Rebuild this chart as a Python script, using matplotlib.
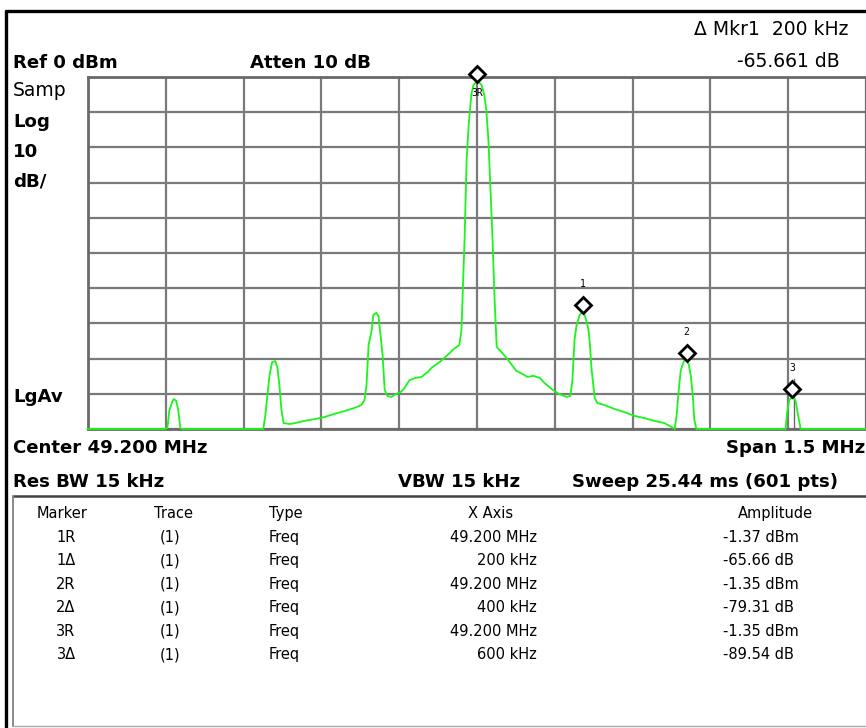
import matplotlib
matplotlib.use("Agg")
import matplotlib.pyplot as plt
import matplotlib.transforms as mtransforms

# ---------------- data ----------------
center_mhz = 49.200
span_khz = 1500
ref_dbm = 0
db_per_div = 10

# trace: frequency offset from centre (kHz) and level (dBm)
trace_khz = [-751, -601, -597, -593, -587, -584, -580, -576, -572, -570,
             -412, -408, -404, -400, -395, -389, -385, -381, -377, -373,
             -361, -350, -333, -313, -294, -275, -255, -236, -223, -217,
             -213, -209, -203, -200, -194, -190, -186, -182, -178, -173,
             -165, -157, -147, -140, -130, -119, -107, -95, -86, -72,
             -59, -45, -34, -30, -28, -24, -20, -16, -11, -7,
             -3, 1, 5, 9, 14, 18, 22, 26, 30, 34,
             38, 47, 57, 67, 76, 88, 97, 109, 121, 130,
             146, 159, 173, 180, 184, 188, 192, 198, 204, 207,
             213, 215, 217, 221, 227, 232, 246, 265, 284, 304,
             323, 342, 361, 375, 381, 385, 389, 393, 399, 404,
             408, 412, 416, 419, 423, 595, 598, 602, 608, 614,
             618, 624, 749]
trace_dbm = [-100, -100, -99.7, -94.6, -92.0, -91.5, -92.0, -94.6, -99.7, -100,
             -100, -96.0, -90.3, -84.7, -81.0, -80.7, -82.4, -87.5, -94.6, -98.3,
             -98.6, -98.3, -97.7, -97.2, -96.6, -95.7, -94.9, -94.0, -93.2, -91.8,
             -87.5, -76.1, -71.9, -67.6, -67.0, -67.9, -73.3, -79.0, -88.9, -90.6,
             -90.9, -90.1, -89.5, -88.4, -86.1, -85.5, -85.2, -83.8, -82.4, -81.0,
             -79.3, -77.3, -76.1, -71.9, -63.4, -46.3, -23.6, -13.6, -5.1, -2.3,
             -1.7, -1.4, -1.7, -2.3, -5.1, -9.4, -17.9, -32.1, -46.3, -63.4,
             -76.7, -78.1, -79.8, -81.8, -83.5, -84.4, -85.2, -84.9, -85.5, -86.9,
             -88.9, -90.1, -90.9, -90.6, -86.1, -74.7, -70.5, -67.6, -66.5, -67.3,
             -70.5, -71.9, -74.7, -83.2, -91.2, -92.6, -93.2, -94.3, -95.2, -96.3,
             -96.9, -97.7, -98.3, -99.4, -100, -96.0, -88.9, -83.2, -80.7, -80.4,
             -81.5, -84.7, -90.3, -97.4, -100, -100, -95.2, -91.8, -90.9, -91.8,
             -95.2, -100, -100]

# markers on the trace
marker_labels = ["3R", "1", "2", "3"]
marker_khz = [0, 204, 404, 608]
marker_dbm = [-1.37, -67.03, -80.66, -90.89]

# marker table
table_header = ["Marker", "Trace", "Type", "X Axis", "Amplitude"]
tbl_marker = ["1R", "1\u0394", "2R", "2\u0394", "3R", "3\u0394"]
tbl_trace = ["(1)"] * 6
tbl_type = ["Freq"] * 6
tbl_xaxis = ["49.200 MHz", "200 kHz", "49.200 MHz", "400 kHz", "49.200 MHz", "600 kHz"]
tbl_amp = ["-1.37 dBm", "-65.66 dB", "-1.35 dBm", "-79.31 dB", "-1.35 dBm", "-89.54 dB"]

# ---------------- figure ----------------
W, H = 866, 728
fig = plt.figure(figsize=(W / 100, H / 100), dpi=100)
FONT = "DejaVu Sans"

# background "canvas" axes in pixel coordinates
bg = fig.add_axes([0, 0, 1, 1])
bg.set_xlim(0, W)
bg.set_ylim(H, 0)
bg.axis("off")

# outer frame
bg.plot([5, W], [10.5, 10.5], color="black", lw=2.4, solid_capstyle="butt")
bg.plot([6, 6], [10, H], color="black", lw=2.4, solid_capstyle="butt")
# table box
bg.plot([12.5, W], [496, 496], color="#444444", lw=1.8, solid_capstyle="butt")
bg.plot([12.5, 12.5], [496, 726], color="#777777", lw=1.2)
bg.plot([12.5, W], [725.5, 725.5], color="#aaaaaa", lw=1.0)

def txt(x, y, s, bold=True, size=13.1, ha="left"):
    bg.text(x, y, s, fontsize=size, fontweight="bold" if bold else "normal",
            family=FONT, ha=ha, va="baseline", color="black")

txt(13, 68, "Ref 0 dBm")
txt(250, 68, "Atten 10 dB")
txt(848, 35, "\u0394 Mkr1  200 kHz", bold=False, size=13.5, ha="right")
txt(840, 67, "-65.661 dB", bold=False, size=13.5, ha="right")
txt(13, 96, "Samp", bold=False, size=13.5)
txt(13, 127, "Log")
txt(13, 157, "10")
txt(13, 187, "dB/")
txt(13, 402, "LgAv")
txt(13, 453, "Center 49.200 MHz")
txt(865, 453, "Span 1.5 MHz", ha="right")
txt(13, 487, "Res BW 15 kHz")
txt(398, 487, "VBW 15 kHz")
txt(572, 487, "Sweep 25.44 ms (601 pts)")

# table text
ts = 10.5
row_y0, row_dy = 542, 23.4
bg.text(62, 518, table_header[0], fontsize=ts, family=FONT, ha="center", va="baseline")
bg.text(173, 518, table_header[1], fontsize=ts, family=FONT, ha="center", va="baseline")
bg.text(269, 518, table_header[2], fontsize=ts, family=FONT, ha="left", va="baseline")
bg.text(491, 518, table_header[3], fontsize=ts, family=FONT, ha="center", va="baseline")
bg.text(775, 518, table_header[4], fontsize=ts, family=FONT, ha="center", va="baseline")
for i in range(len(tbl_marker)):
    y = row_y0 + i * row_dy
    bg.text(66, y, tbl_marker[i], fontsize=ts, family=FONT, ha="center", va="baseline")
    bg.text(170, y, tbl_trace[i], fontsize=ts, family=FONT, ha="center", va="baseline")
    bg.text(269, y, tbl_type[i], fontsize=ts, family=FONT, ha="left", va="baseline")
    bg.text(537, y, tbl_xaxis[i], fontsize=ts, family=FONT, ha="right", va="baseline")
    bg.text(723, y, tbl_amp[i], fontsize=ts, family=FONT, ha="left", va="baseline")

# ---------------- graticule ----------------
gx0, gx1, gy0, gy1 = 88, 866, 77, 429
ax = fig.add_axes([gx0 / W, 1 - gy1 / H, (gx1 - gx0) / W, (gy1 - gy0) / H])
half = span_khz / 2
ax.set_xlim(-half, half)
ax.set_ylim(ref_dbm - 10 * db_per_div, ref_dbm)
ax.set_xticks([-half + i * span_khz / 10 for i in range(11)])
ax.set_yticks([ref_dbm - i * db_per_div for i in range(11)])
ax.tick_params(length=0, labelbottom=False, labelleft=False)
ax.grid(True, color="#7a7a7a", lw=1.6)
for sp in ax.spines.values():
    sp.set_color("#6a6a6a")
    sp.set_linewidth(2.0)
ax.set_facecolor("white")
ax.set_axisbelow(True)

ax.plot(trace_khz, trace_dbm, color="#1af51a", lw=1.3, clip_on=False, zorder=3)

# marker line for marker 3
ax.plot([marker_khz[3] + 4, marker_khz[3] + 4], [-100, marker_dbm[3] + 5],
        color="#666666", lw=1.0, zorder=2)

up = mtransforms.offset_copy(ax.transData, fig=fig, x=0, y=8 / 100 * 72, units="points")
for lab, fk, lv in zip(marker_labels, marker_khz, marker_dbm):
    ax.plot([fk], [lv], marker="D", ms=8, mfc="white", mec="black", mew=2,
            transform=up, clip_on=False, zorder=5)
    if lab == "3R":
        lab_tr = mtransforms.offset_copy(ax.transData, fig=fig, x=0, y=-11 / 100 * 72, units="points")
    else:
        lab_tr = mtransforms.offset_copy(ax.transData, fig=fig, x=0, y=29 / 100 * 72, units="points")
    ax.text(fk, lv, lab, transform=lab_tr, fontsize=7, family="DejaVu Sans Mono",
            ha="center", va="center", color="black", zorder=6, clip_on=False)

fig.savefig("out.png", dpi=100)
